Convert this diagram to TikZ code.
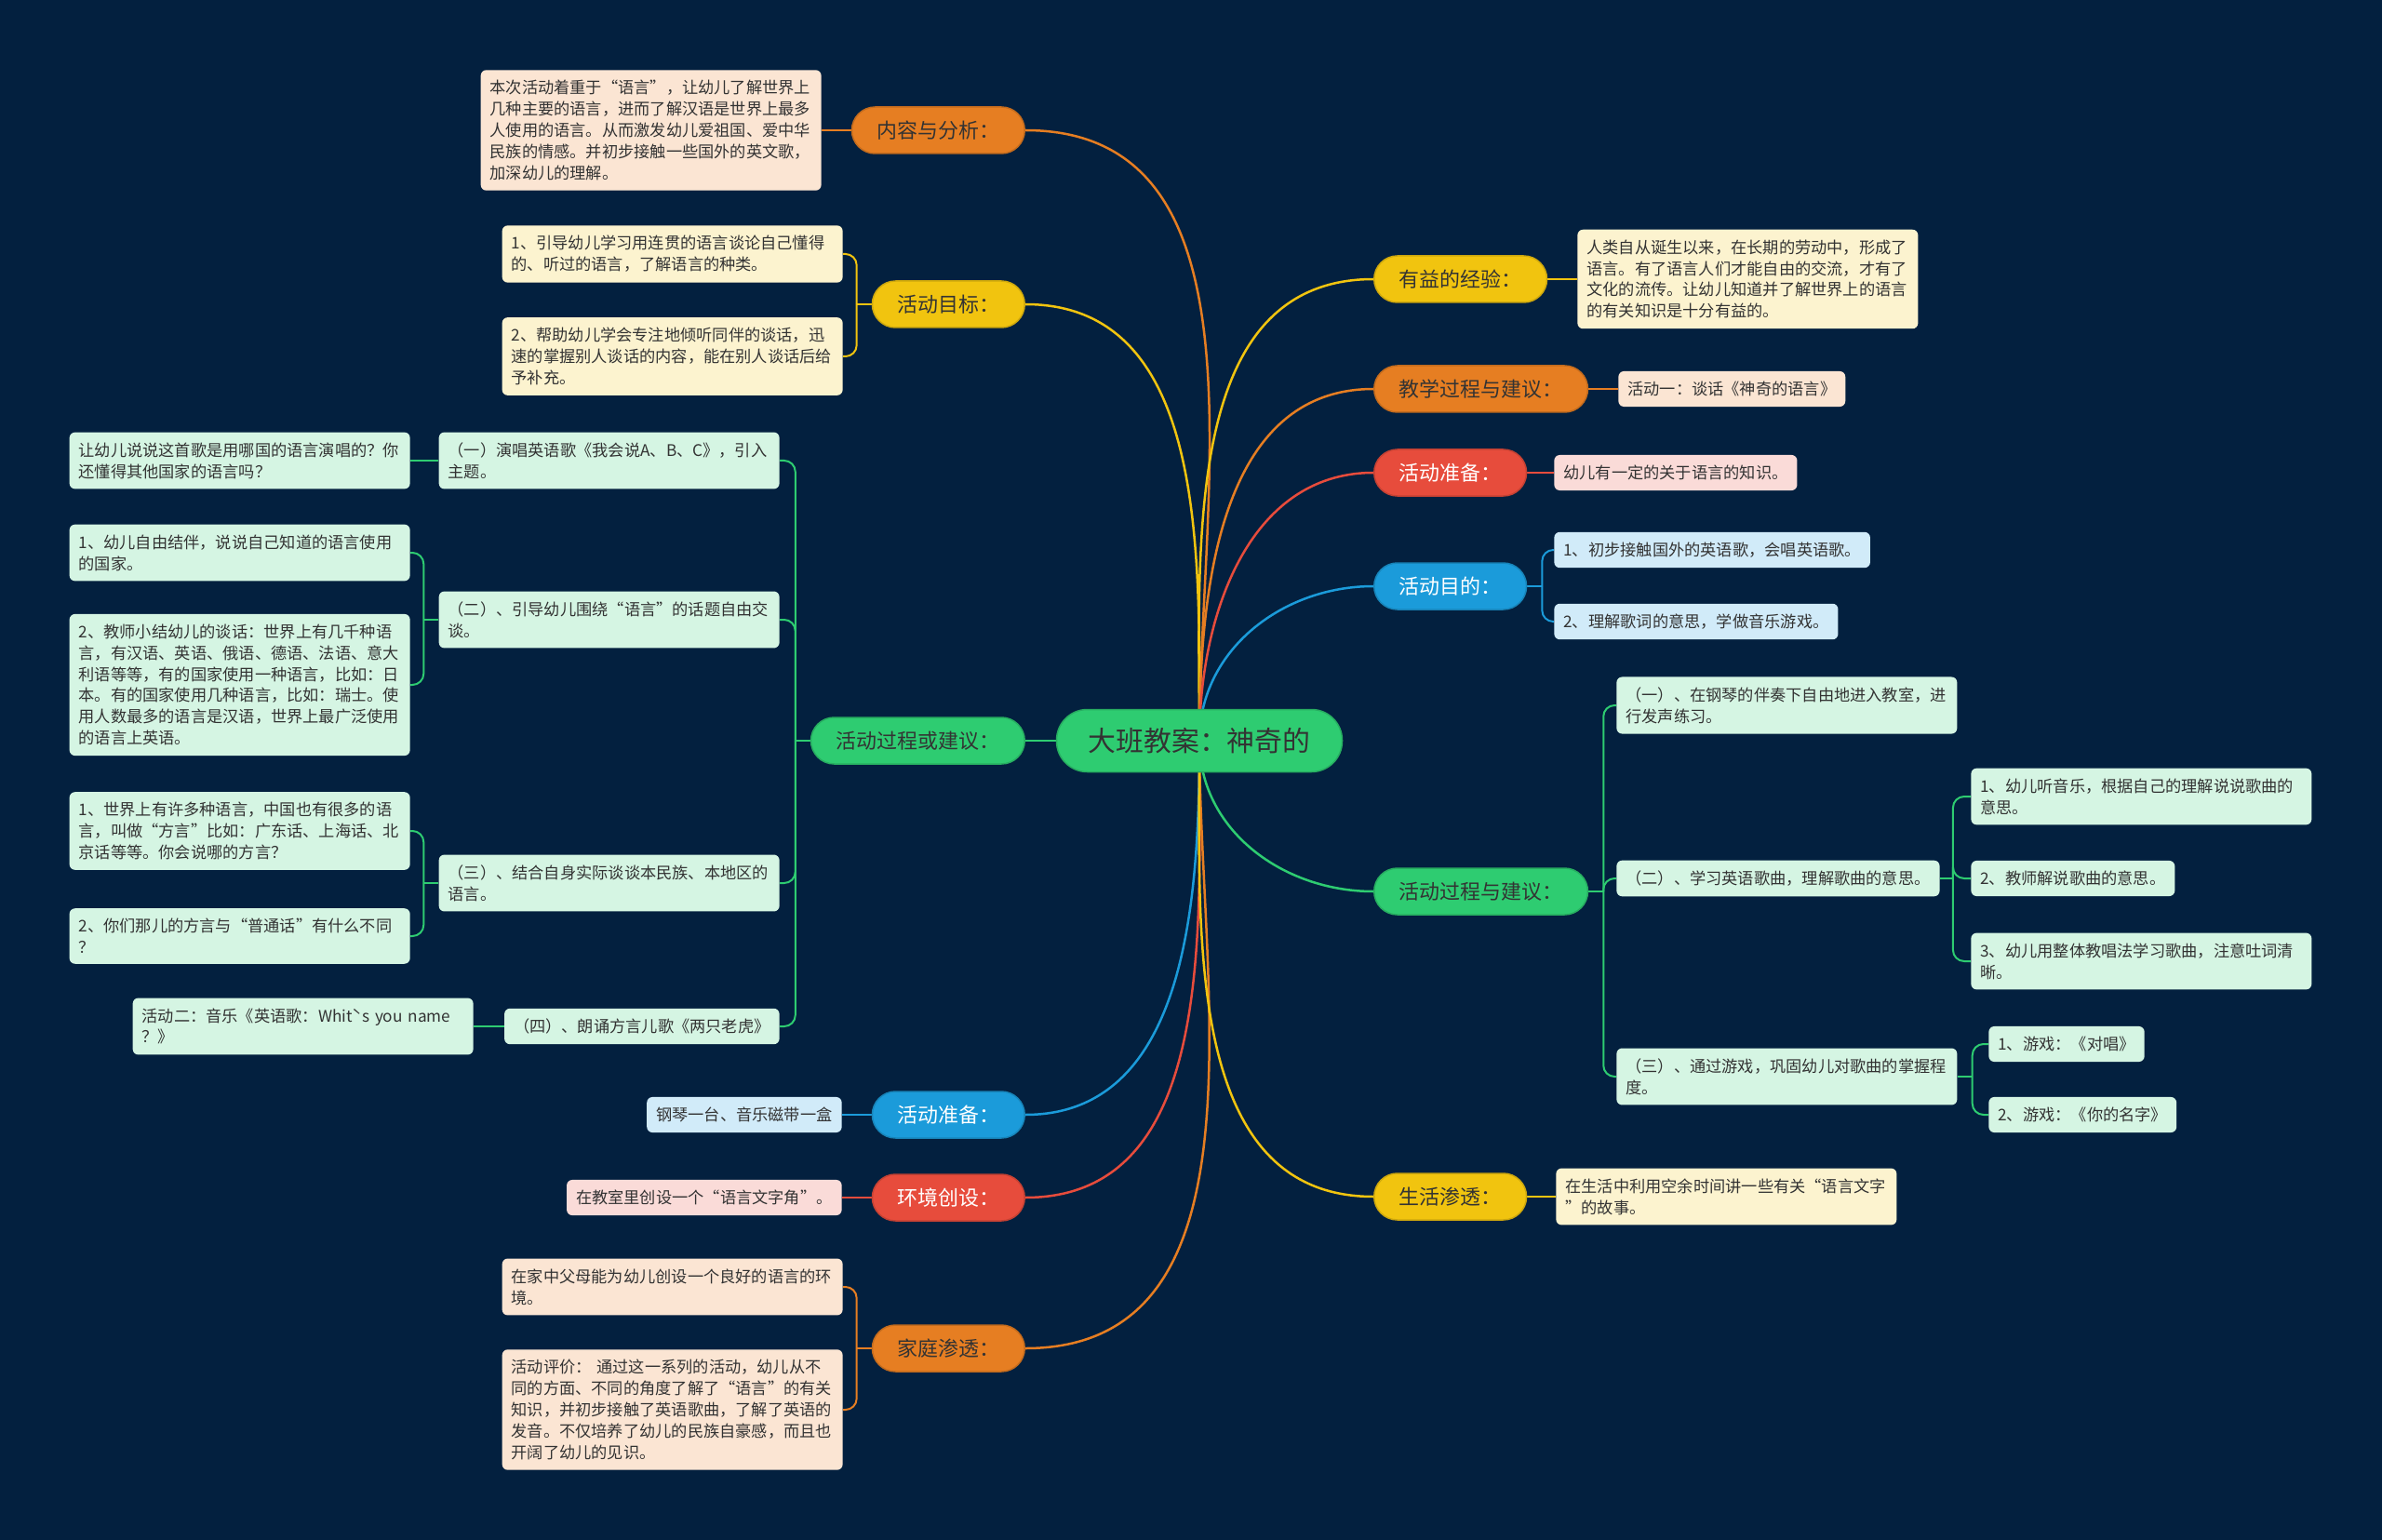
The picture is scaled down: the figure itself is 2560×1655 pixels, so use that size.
\documentclass[tikz,border=0pt]{standalone}
\usepackage{fontspec}
\newfontfamily\cjk{Noto Sans CJK SC}
\usepackage{tikz}
\usetikzlibrary{backgrounds}
\definecolor{bgc}{HTML}{03203F}
\definecolor{grnc}{HTML}{2ECC71}
\definecolor{yelc}{HTML}{F1C40F}
\definecolor{orac}{HTML}{E67E22}
\definecolor{redc}{HTML}{E74C3C}
\definecolor{bluc}{HTML}{1B9BDA}
\definecolor{grnl}{HTML}{D5F5E3}
\definecolor{yell}{HTML}{FCF3CF}
\definecolor{oral}{HTML}{FBE5D3}
\definecolor{redl}{HTML}{FADBD8}
\definecolor{blul}{HTML}{D1EBF9}
\definecolor{txtc}{HTML}{333333}

\begin{document}
\begin{tikzpicture}[x=0.2mm, y=-0.2mm, font=\cjk,
  root/.style={rounded corners=6.6mm, fill=grnc, draw=grnc!85!black, line width=0.3mm, minimum height=13.4mm,
    inner xsep=6.8mm, text=txtc, font=\cjk\fontsize{17}{20}\selectfont},
  topic/.style={rounded corners=5mm, fill=#1, draw=#1!85!black, line width=0.3mm, minimum height=10mm,
    inner xsep=5.4mm, text=txtc, font=\cjk\fontsize{12.5}{15}\selectfont},
  leaf/.style={rounded corners=1.2mm, fill=#1, inner xsep=2mm, inner ysep=2.2mm, align=left,
    text=txtc, font=\cjk\fontsize{9.8}{13}\selectfont},
  wide/.style={text width=69.2mm},
  link/.style={draw=#1, line width=0.5mm},
  sub/.style={draw=#1, line width=0.4mm},
  fork/.style={draw=#1, line width=0.4mm, rounded corners=2.4mm}]
 \useasboundingbox (0,0) rectangle (2560,1655);
 \node[root] (root) at (1289,796) {大班教案：神奇的};
 % right side
 \node[topic=yelc, anchor=west] (gain) at (1476,300) {有益的经验：};
 \node[topic=orac, anchor=west] (teach) at (1476,418) {教学过程与建议：};
 \node[topic=redc, anchor=west, text=white] (prepR) at (1476,508) {活动准备：};
 \node[topic=bluc, anchor=west, text=white] (goalR) at (1476,630) {活动目的：};
 \node[topic=grnc, anchor=west] (procR) at (1476,958) {活动过程与建议：};
 \node[topic=yelc, anchor=west] (life) at (1476,1286) {生活渗透：};
 \node[leaf=yell, wide, anchor=west] (gainL) at (1695,300) {人类自从诞生以来，在长期的劳动中，形成了\\语言。有了语言人们才能自由的交流，才有了\\文化的流传。让幼儿知道并了解世界上的语言\\的有关知识是十分有益的。};
 \node[leaf=oral, anchor=west] (teachL) at (1739,418) {活动一：谈话《神奇的语言》};
 \node[leaf=redl, anchor=west] (prepRL) at (1670,508) {幼儿有一定的关于语言的知识。};
 \node[leaf=blul, anchor=west] (goalR1) at (1670,591) {1、初步接触国外的英语歌，会唱英语歌。};
 \node[leaf=blul, anchor=west] (goalR2) at (1670,668) {2、理解歌词的意思，学做音乐游戏。};
 \node[leaf=grnl, wide, anchor=west] (procR1) at (1737,758) {（一）、在钢琴的伴奏下自由地进入教室，进\\行发声练习。};
 \node[leaf=grnl, anchor=west] (procR2) at (1737,944) {（二）、学习英语歌曲，理解歌曲的意思。};
 \node[leaf=grnl, wide, anchor=west] (procR3) at (1737,1157) {（三）、通过游戏，巩固幼儿对歌曲的掌握程\\度。};
 \node[leaf=grnl, wide, anchor=west] (procR2a) at (2118,856) {1、幼儿听音乐，根据自己的理解说说歌曲的\\意思。};
 \node[leaf=grnl, anchor=west] (procR2b) at (2118,944) {2、教师解说歌曲的意思。};
 \node[leaf=grnl, wide, anchor=west] (procR2c) at (2118,1033) {3、幼儿用整体教唱法学习歌曲，注意吐词清\\晰。};
 \node[leaf=grnl, anchor=west] (procR3a) at (2137,1122) {1、游戏：《对唱》};
 \node[leaf=grnl, anchor=west] (procR3b) at (2137,1198) {2、游戏：《你的名字》};
 \node[leaf=yell, wide, anchor=west] (lifeL) at (1672,1286) {在生活中利用空余时间讲一些有关“语言文字\\”的故事。};
 % left side
 \node[topic=orac, anchor=east] (content) at (1102,140) {内容与分析：};
 \node[topic=yelc, anchor=east] (aim) at (1102,327) {活动目标：};
 \node[topic=grnc, anchor=east] (procL) at (1102,796) {活动过程或建议：};
 \node[topic=bluc, anchor=east, text=white] (prepL) at (1102,1198) {活动准备：};
 \node[topic=redc, anchor=east, text=white] (env) at (1102,1287) {环境创设：};
 \node[topic=orac, anchor=east] (home) at (1102,1449) {家庭渗透：};
 \node[leaf=oral, wide, anchor=east] (contentL) at (883,140) {本次活动着重于“语言”，让幼儿了解世界上\\几种主要的语言，进而了解汉语是世界上最多\\人使用的语言。从而激发幼儿爱祖国、爱中华\\民族的情感。并初步接触一些国外的英文歌，\\加深幼儿的理解。};
 \node[leaf=yell, wide, anchor=east] (aim1) at (906,273) {1、引导幼儿学习用连贯的语言谈论自己懂得\\的、听过的语言，了解语言的种类。};
 \node[leaf=yell, wide, anchor=east] (aim2) at (906,383) {2、帮助幼儿学会专注地倾听同伴的谈话，迅\\速的掌握别人谈话的内容，能在别人谈话后给\\予补充。};
 \node[leaf=grnl, wide, anchor=east] (procL1) at (838,495) {（一）演唱英语歌《我会说A、B、C》，引入\\主题。};
 \node[leaf=grnl, wide, anchor=east] (procL2) at (838,666) {（二）、引导幼儿围绕“语言”的话题自由交\\谈。};
 \node[leaf=grnl, wide, anchor=east] (procL3) at (838,949) {（三）、结合自身实际谈谈本民族、本地区的\\语言。};
 \node[leaf=grnl, anchor=east] (procL4) at (838,1103) {（四）、朗诵方言儿歌《两只老虎》};
 \node[leaf=grnl, wide, anchor=east] (procL1a) at (441,495) {让幼儿说说这首歌是用哪国的语言演唱的？你\\还懂得其他国家的语言吗？};
 \node[leaf=grnl, wide, anchor=east] (procL2a) at (441,594) {1、幼儿自由结伴，说说自己知道的语言使用\\的国家。};
 \node[leaf=grnl, wide, anchor=east] (procL2b) at (441,736) {2、教师小结幼儿的谈话：世界上有几千种语\\言，有汉语、英语、俄语、德语、法语、意大\\利语等等，有的国家使用一种语言，比如：日\\本。有的国家使用几种语言，比如：瑞士。使\\用人数最多的语言是汉语，世界上最广泛使用\\的语言上英语。};
 \node[leaf=grnl, wide, anchor=east] (procL3a) at (441,893) {1、世界上有许多种语言，中国也有很多的语\\言，叫做“方言”比如：广东话、上海话、北\\京话等等。你会说哪的方言？};
 \node[leaf=grnl, wide, anchor=east] (procL3b) at (441,1006) {2、你们那儿的方言与“普通话”有什么不同\\？};
 \node[leaf=grnl, wide, anchor=east] (procL4a) at (509,1103) {活动二：音乐《英语歌：Whitˋs you name\\？》};
 \node[leaf=blul, anchor=east] (prepLL) at (905,1198) {钢琴一台、音乐磁带一盒};
 \node[leaf=redl, anchor=east] (envL) at (905,1287) {在教室里创设一个“语言文字角”。};
 \node[leaf=oral, wide, anchor=east] (home1) at (906,1383) {在家中父母能为幼儿创设一个良好的语言的环\\境。};
 \node[leaf=oral, wide, anchor=east] (home2) at (906,1515) {活动评价： 通过这一系列的活动，幼儿从不\\同的方面、不同的角度了解了“语言”的有关\\知识，并初步接触了英语歌曲，了解了英语的\\发音。不仅培养了幼儿的民族自豪感，而且也\\开阔了幼儿的见识。};
 % fork points
 \coordinate (aimS) at ([xshift=-3.2mm]aim.west);
 \coordinate (homeS) at ([xshift=-3.2mm]home.west);
 \coordinate (procLS) at ([xshift=-3.2mm]procL.west);
 \coordinate (procL2S) at ([xshift=-3.2mm]procL2.west);
 \coordinate (procL3S) at ([xshift=-3.2mm]procL3.west);
 \coordinate (goalRS) at ([xshift=3.2mm]goalR.east);
 \coordinate (procRS) at ([xshift=3.2mm]procR.east);
 \coordinate (procR2S) at ([xshift=2.8mm]procR2.east);
 \coordinate (procR3S) at ([xshift=3.2mm]procR3.east);
 \begin{scope}[on background layer]
  \fill[bgc] (0,0) rectangle (2560,1655);
  \foreach \n/\c/\o/\i/\a in {content/orac/90/0/east, aim/yelc/90/0/east, prepL/bluc/-90/0/east,
      env/redc/-90/0/east, home/orac/-90/0/east, gain/yelc/90/180/west, teach/orac/90/180/west,
      prepR/redc/90/180/west, goalR/bluc/90/180/west, procR/grnc/-90/180/west, life/yelc/-90/180/west}
    \draw[link=\c] (root.center) to[out=\o,in=\i] (\n.\a);
  \draw[link=grnc] (root) -- (procL);
  % single children
  \draw[sub=orac] (content) -- (contentL);
  \draw[sub=orac] (teach) -- (teachL);
  \draw[sub=yelc] (gain) -- (gainL);
  \draw[sub=redc] (prepR) -- (prepRL);
  \draw[sub=yelc] (life) -- (lifeL);
  \draw[sub=bluc] (prepL) -- (prepLL);
  \draw[sub=redc] (env) -- (envL);
  \draw[sub=grnc] (procL1) -- (procL1a);
  \draw[sub=grnc] (procL4) -- (procL4a);
  % forks
  \draw[sub=yelc] (aim.west) -- (aimS);
  \foreach \k in {aim1,aim2} \draw[fork=yelc] (aimS) |- (\k.east);
  \draw[sub=orac] (home.west) -- (homeS);
  \foreach \k in {home1,home2} \draw[fork=orac] (homeS) |- (\k.east);
  \draw[sub=grnc] (procL.west) -- (procLS);
  \foreach \k in {procL1,procL2,procL3,procL4} \draw[fork=grnc] (procLS) |- (\k.east);
  \draw[sub=grnc] (procL2.west) -- (procL2S);
  \foreach \k in {procL2a,procL2b} \draw[fork=grnc] (procL2S) |- (\k.east);
  \draw[sub=grnc] (procL3.west) -- (procL3S);
  \foreach \k in {procL3a,procL3b} \draw[fork=grnc] (procL3S) |- (\k.east);
  \draw[sub=bluc] (goalR.east) -- (goalRS);
  \foreach \k in {goalR1,goalR2} \draw[fork=bluc] (goalRS) |- (\k.west);
  \draw[sub=grnc] (procR.east) -- (procRS);
  \foreach \k in {procR1,procR2,procR3} \draw[fork=grnc] (procRS) |- (\k.west);
  \draw[sub=grnc] (procR2.east) -- (procR2S);
  \foreach \k in {procR2a,procR2b,procR2c} \draw[fork=grnc] (procR2S) |- (\k.west);
  \draw[sub=grnc] (procR3.east) -- (procR3S);
  \foreach \k in {procR3a,procR3b} \draw[fork=grnc] (procR3S) |- (\k.west);
 \end{scope}
\end{tikzpicture}
\end{document}
